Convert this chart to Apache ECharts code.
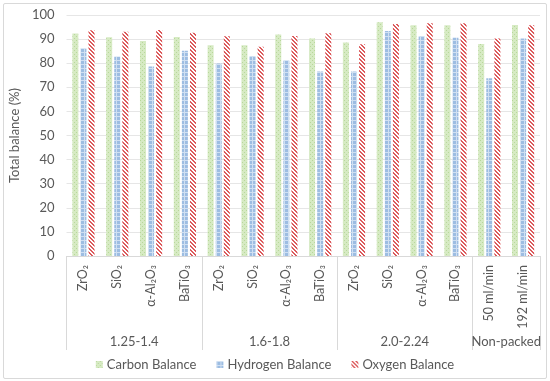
<!DOCTYPE html>
<html>
<head>
<meta charset="utf-8">
<script src="https://cdn.jsdelivr.net/npm/echarts@6/dist/echarts.min.js"></script>
<style>
html,body{margin:0;padding:0;background:#fff;}
#frame{position:absolute;left:3px;top:3px;width:542px;height:374px;border:1px solid #d9d9d9;border-radius:2px;}
#chart{position:absolute;left:0;top:0;width:550px;height:381px;}
</style>
</head>
<body>
<div id="frame"></div>
<div id="chart"></div>
<script>
// ---- data ----
const categories = ['ZrO₂','SiO₂','α-Al₂O₃','BaTiO₃','ZrO₂','SiO₂','α-Al₂O₃','BaTiO₃','ZrO₂','SiO₂','α-Al₂O₃','BaTiO₃','50 ml/min','192 ml/min'];
const groups = ['1.25-1.4','1.6-1.8','2.0-2.24','Non-packed'];
const groupSizes = [4,4,4,2];
const seriesNames = ['Carbon Balance','Hydrogen Balance','Oxygen Balance'];
const carbon   = [92.3,90.8,89.2,90.9, 87.4,87.4,91.9,90.2, 88.6,97.0,95.7,95.7, 88.0,95.9];
const hydrogen = [86.2,82.8,78.6,85.2, 79.9,83.0,81.2,76.6, 76.6,93.4,91.3,90.6, 73.8,90.3];
const oxygen   = [93.7,93.0,93.8,92.6, 91.2,86.8,91.3,92.4, 87.9,96.3,96.6,96.6, 90.2,95.7];
const yTicks = [0,10,20,30,40,50,60,70,80,90,100];

// group boundaries & centers
const bounds = [0];
groupSizes.forEach(s => bounds.push(bounds[bounds.length-1] + s));
const centers = groups.map((g,i) => (bounds[i] + bounds[i+1]) / 2);

// ---- patterns ----
function makePattern(kind){
  const c = document.createElement('canvas');
  const ctx = c.getContext('2d');
  if (kind === 'green'){
    c.width = 4; c.height = 4;
    ctx.fillStyle = '#d6eac3'; ctx.fillRect(0,0,4,4);
    ctx.fillStyle = '#b8d89a';
    ctx.fillRect(0,0,1,1); ctx.fillRect(2,2,1,1);
  } else if (kind === 'blue'){
    c.width = 4; c.height = 4;
    ctx.fillStyle = '#9dbde2'; ctx.fillRect(0,0,4,4);
    ctx.fillStyle = '#d0e0f2';
    ctx.fillRect(0,0,4,1); ctx.fillRect(0,0,1,4);
  } else {
    c.width = 4; c.height = 4;
    ctx.fillStyle = '#ffffff'; ctx.fillRect(0,0,4,4);
    ctx.fillStyle = '#dc5a5c';
    for (let i=0;i<4;i++){ ctx.fillRect(i,i,1,1); ctx.fillRect((i+1)%4,i,1,1); }
  }
  return {image: c, repeat: 'repeat'};
}
const fills = [makePattern('green'), makePattern('blue'), makePattern('red')];
const values = [carbon, hydrogen, oxygen];

const FONT = 'Lato';
const chart = echarts.init(document.getElementById('chart'), null, {renderer:'canvas'});
chart.setOption({
  animation: false,
  textStyle: {fontFamily: FONT},
  grid: {left: 60, right: 10, top: 15, bottom: 125},
  legend: {
    data: seriesNames,
    bottom: 5, left: 'center',
    itemWidth: 7, itemHeight: 7, itemGap: 20,
    icon: 'rect',
    textStyle: {fontFamily: FONT, fontSize: 13, color: '#595959', padding: [0,0,0,-1]}
  },
  xAxis: [
    {
      type: 'category',
      data: categories,
      position: 'bottom',
      axisLine: {show: true, lineStyle: {color: '#d9d9d9'}},
      axisTick: {show: false},
      axisLabel: {interval: 0, rotate: 90, fontFamily: FONT, fontSize: 12.5, color: '#595959', margin: 9}
    },
    {
      type: 'value',
      min: 0, max: bounds[bounds.length-1], interval: 1,
      position: 'bottom',
      axisLine: {show: false},
      splitLine: {show: false},
      axisTick: {show: true, inside: false, length: 94, customValues: bounds, lineStyle: {color: '#d9d9d9'}},
      axisLabel: {
        show: true, margin: 79, customValues: centers,
        fontFamily: FONT, fontSize: 13, color: '#595959',
        formatter: v => { const i = centers.indexOf(v); return i >= 0 ? groups[i] : ''; }
      }
    }
  ],
  yAxis: {
    type: 'value', min: 0, max: 100, interval: 10,
    name: 'Total balance (%)', nameLocation: 'middle', nameGap: 40,
    nameTextStyle: {fontFamily: FONT, fontSize: 13, color: '#595959'},
    axisLine: {show: false}, axisTick: {show: false},
    axisLabel: {fontFamily: FONT, fontSize: 13, color: '#595959', margin: 12,
      customValues: yTicks},
    splitLine: {lineStyle: {color: '#e6e6e6'}}
  },
  series: seriesNames.map((n,i) => ({
    name: n, type: 'bar', xAxisIndex: 0,
    data: values[i],
    barWidth: 6, barGap: '35%',
    itemStyle: {color: fills[i]}
  }))
});
</script>
</body>
</html>
